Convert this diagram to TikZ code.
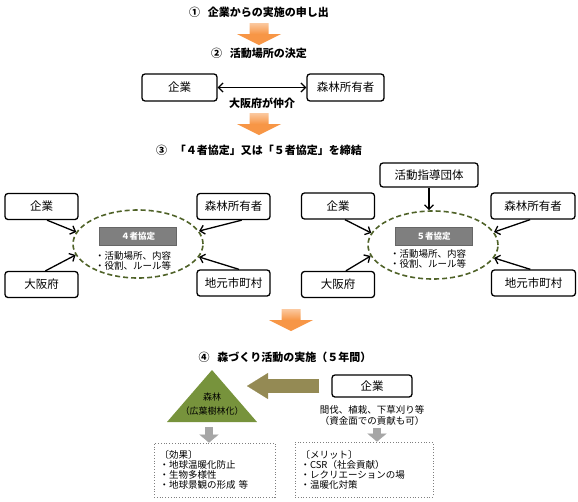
\documentclass[tikz,border=0pt]{standalone}
\usepackage{fontspec}
\setmainfont{Noto Sans CJK JP}
\usetikzlibrary{arrows.meta,shapes.geometric}
\definecolor{arroworange}{HTML}{F79646}
\definecolor{arrowlight}{HTML}{FBC9A0}
\definecolor{olivedark}{HTML}{4F6228}
\definecolor{forestgreen}{HTML}{77933C}
\definecolor{olivebrown}{HTML}{948A54}
\definecolor{labelgray}{HTML}{7F7F7F}
\definecolor{arrowgray}{HTML}{A6A6A6}

\begin{document}
\begin{tikzpicture}[x=1pt, y=-1pt,
    box/.style={draw, line width=1.3pt, rounded corners=3pt, minimum width=73pt, minimum height=26pt, inner sep=1pt, font=\fontsize{11.5}{13}\selectfont},
    heading/.style={font=\bfseries\fontsize{11}{13}\selectfont},
    pact/.style={ellipse, draw=olivedark, line width=1.6pt, dash pattern=on 5pt off 3pt, minimum width=130pt, minimum height=68pt},
    pactlabel/.style={fill=labelgray, draw=black!60, text=white, font=\bfseries\fontsize{8.5}{9}\selectfont, minimum width=77pt, minimum height=18pt, inner sep=0pt},
    pactnote/.style={align=left, font=\fontsize{9.5}{10.5}\selectfont},
    arr/.style={-{Straight Barb[length=4.5pt,width=9pt]}, line width=1.3pt},
    dblarr/.style={{Straight Barb[length=4.5pt,width=9pt]}-{Straight Barb[length=4.5pt,width=9pt]}, line width=1.3pt},
    oarrow/.style={draw=olivebrown, line width=14pt, -{Triangle[length=21pt,width=26pt,line width=0.1pt]}},
    garrow/.style={draw=arrowgray, line width=8pt, -{Triangle[length=8pt,width=19pt,line width=0.1pt]}},
    dotbox/.style={draw=labelgray, dotted, line width=0.8pt, align=left, inner xsep=5pt, font=\fontsize{9.5}{10}\selectfont}]
    \useasboundingbox (0,0) rectangle (578,501);

    \foreach \ax/\ay in {259/23, 259/113, 291/309}
      \shade[top color=arrowlight, bottom color=arroworange, middle color=arroworange]
        (\ax-9.5,\ay) -- (\ax+9.5,\ay) -- (\ax+9.5,\ay+11) -- (\ax+22,\ay+11)
        -- (\ax,\ay+22) -- (\ax-22,\ay+11) -- (\ax-9.5,\ay+11) -- cycle;

    \draw
    (259, 12) node[heading](step1){①\hspace{0.7em}企業からの実施の申し出}
    (259, 53) node[heading](step2){②\hspace{0.7em}活動場所の決定}
    (179.5, 87.5) node[box, minimum width=75pt, minimum height=27pt](kigyoA){企業}
    (345.5, 87.5) node[box, minimum width=77pt, minimum height=27pt](shinrinA){森林所有者}
    (259, 150) node[heading](step3){③\hspace{0.7em}「４者協定」又は「５者協定」を締結}
    (285, 357) node[heading](step4){④\hspace{0.7em}森づくり活動の実施（５年間）};

    \draw
    (41.5, 206.5) node[box](kigyoL){企業}
    (233.5, 206.5) node[box](shinrinL){森林所有者}
    (41.5, 284.5) node[box](osakaL){大阪府}
    (233.5, 283) node[box](jimotoL){地元市町村}
    (138, 244) node[pact](pact4){}
    (138, 236) node[pactlabel](label4){４者協定}
    (133, 261) node[pactnote](note4){・活動場所、内容\\・役割、ルール等};

    \draw
    (429, 175) node[box, minimum width=98pt, minimum height=24pt](dantai){活動指導団体}
    (338, 206) node[box](kigyoR){企業}
    (533, 206) node[box, minimum width=84pt](shinrinR){森林所有者}
    (338, 284.5) node[box](osakaR){大阪府}
    (533.5, 283) node[box, minimum width=84pt](jimotoR){地元市町村}
    (433, 245) node[pact](pact5){}
    (433.5, 236) node[pactlabel](label5){５者協定}
    (428, 259) node[pactnote](note5){・活動場所、内容\\・役割、ルール等};

    \fill[forestgreen] (212, 370) -- (257, 422) -- (167, 422) -- cycle;
    \draw
    (212, 404) node[align=center, font=\fontsize{9}{14}\selectfont](mori){森林\\（広葉樹林化）}
    (372, 386) node[box, minimum width=80pt, minimum height=22pt](kigyoD){企業}
    (372, 415.5) node[align=center, font=\fontsize{9.5}{11}\selectfont](kanbatsu){間伐、植栽、下草刈り等\\（資金面での貢献も可）}
    (214.5, 470) node[dotbox, minimum width=121pt, minimum height=54pt, text width=110pt](kouka){〔効果〕\\・地球温暖化防止\\・生物多様性\\・地球景観の形成\ 等}
    (364, 469.5) node[dotbox, minimum width=138pt, minimum height=55pt, text width=127pt](merit){〔メリット〕\\・CSR（社会貢献）\\・レクリエーションの場\\・温暖化対策};
    \coordinate (triBase) at (209, 427);
    \coordinate (fundBase) at (377, 428);

    \draw[dblarr] (kigyoA) -- node[below=6pt, heading]{大阪府が仲介} (shinrinA);

    \draw[arr] (kigyoL.-68) -- (pact4.169);
    \draw[arr] (shinrinL.-59) -- (pact4.12);
    \draw[arr] (osakaL.74) -- (pact4.190);
    \draw[arr] (jimotoL.68) -- (pact4.-12);

    \draw[arr] (dantai) -- (dantai |- pact5.north);
    \draw[arr] (kigyoR.-63) -- (pact5.169);
    \draw[arr] (shinrinR.-102) -- (pact5.12);
    \draw[arr] (osakaR.60) -- (pact5.190);
    \draw[arr] (jimotoR.103) -- (pact5.-12);

    \draw[oarrow, shorten <=12pt, shorten >=35pt] (kigyoD) -- (kigyoD -| mori);
    \draw[garrow] (triBase) -- (triBase |- kouka.north);
    \draw[garrow] (fundBase) -- (fundBase |- merit.north);

  \end{tikzpicture}
\end{document}
